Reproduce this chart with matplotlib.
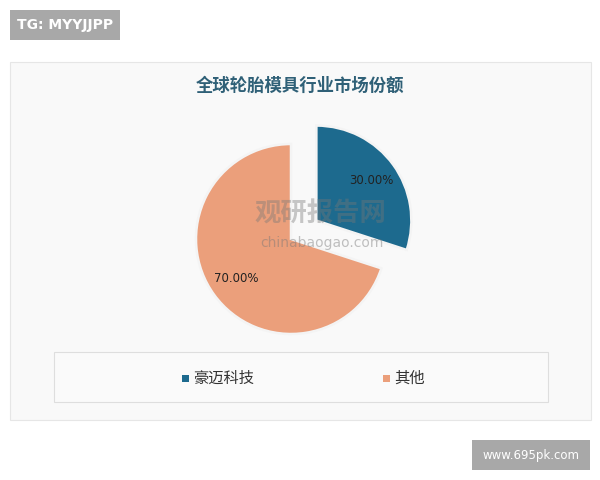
import matplotlib
matplotlib.use("Agg")
import matplotlib.pyplot as plt
from matplotlib.patches import Rectangle

plt.rcParams['font.family'] = ['Noto Sans CJK SC', 'DejaVu Sans']

title = "全球轮胎模具行业市场份额"
labels = ["豪迈科技", "其他"]
shares = [30.0, 70.0]
colors = ["#1d6a8e", "#eb9f7b"]
explode = [0.33, 0.0]

W, H = 600, 480
fig = plt.figure(figsize=(6, 4.8), dpi=100)
fig.patch.set_facecolor("white")

def px_rect(x0, y0, x1, y1, **kw):
    r = Rectangle((x0 / W, 1 - y1 / H), (x1 - x0) / W, (y1 - y0) / H,
                  transform=fig.transFigure, **kw)
    fig.patches.append(r)
    return r

# outer panel
px_rect(10, 62, 591, 420, facecolor="#f9f9f9", edgecolor="#e6e6e6", lw=0.8, zorder=-2)
# legend box
px_rect(54, 352, 548, 402, facecolor="#fafafa", edgecolor="#dedede", lw=0.8, zorder=-1)

# title
fig.text(300 / W, 1 - 86 / H, title, ha="center", va="center", fontsize=12.5,
         fontweight="bold", color="#2f6077")

# pie axes: center (291, 239), radius 95 px
R = 95
cx, cy = 291, 239
aw = 3 * R
ax = fig.add_axes([(cx - aw / 2) / W, 1 - (cy + aw / 2) / H, aw / W, aw / H])
ax.set_zorder(2)
ax.patch.set_visible(False)
ax.axis("off")
wedges, texts, autotexts = ax.pie(
    shares, colors=colors, explode=explode, startangle=90, counterclock=False,
    autopct="%.2f%%", pctdistance=0.71, radius=1.0,
    wedgeprops=dict(edgecolor="#f4f4f4", linewidth=1.8),
    textprops=dict(fontsize=8.5, color="#222222", family=["DejaVu Sans"]))
ax.set_xlim(-1.5, 1.5)
ax.set_ylim(-1.5, 1.5)

# watermark
fig.text(320 / W, 1 - 214 / H, "观研报告网", ha="center", va="center", fontsize=19,
         fontweight="bold", color="#777777", alpha=0.4, zorder=5)
fig.text(322 / W, 1 - 243 / H, "chinabaogao.com", ha="center", va="center", fontsize=10,
         color="#777777", alpha=0.45, family=["DejaVu Sans"], zorder=5)

# legend
leg_y = 1 - 378 / H
for (mx, tx), lab, col in zip([(185, 193), (386, 394)], labels, colors):
    px_rect(mx - 3.5, 374.5, mx + 3.5, 381.5, facecolor=col, edgecolor="none", zorder=2)
    fig.text(tx / W, leg_y, lab, ha="left", va="center", fontsize=11, color="#333333")

# badges
px_rect(10, 10, 120, 40, facecolor="#a8a8a8", edgecolor="none", zorder=3)
fig.text(65 / W, 1 - 25 / H, "TG: MYYJJPP", ha="center", va="center", fontsize=10,
         fontweight="bold", color="white", family=["DejaVu Sans"], zorder=4)
px_rect(472, 440, 590, 470, facecolor="#a8a8a8", edgecolor="none", zorder=3)
fig.text(531 / W, 1 - 455 / H, "www.695pk.com", ha="center", va="center", fontsize=8.5,
         color="white", family=["DejaVu Sans"], zorder=4)

fig.savefig("out.png", dpi=100, facecolor="white")
